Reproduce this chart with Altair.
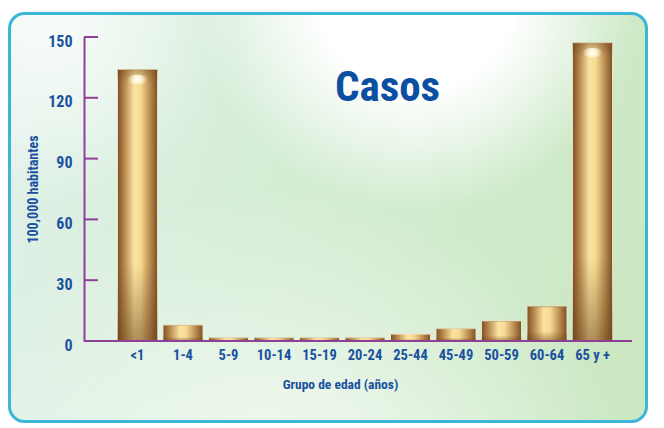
import altair as alt
import pandas as pd

# ---- data ----
grupos = ["<1", "1-4", "5-9", "10-14", "15-19", "20-24", "25-44", "45-49", "50-59", "60-64", "65 y +"]
casos = [134, 7.9, 1.6, 1.6, 1.6, 1.6, 3.4, 6.1, 9.9, 17.2, 147.2]
y_ticks = [0, 30, 60, 90, 120, 150]
titulo = "Casos"
y_titulo = "100,000 habitantes"
x_titulo = "Grupo de edad (años)"

df = pd.DataFrame({"g": grupos, "v": casos})
ticks_df = pd.DataFrame({"v": y_ticks})

FONT = "Roboto Condensed, Roboto, Liberation Sans"
BLUE = "#1a51a0"
PURPLE = "#903f98"
W, H = 548, 304

x_enc = alt.X("g:N", sort=grupos, title=x_titulo,
              scale=alt.Scale(range=[33.5, 528.5], paddingInner=0.121, paddingOuter=0),
              axis=alt.Axis(domain=False, ticks=False, tickSize=0, labelPadding=14,
                            labelBaseline="middle", labelAngle=0, labelFont=FONT,
                            labelFontSize=14.5, labelFontWeight="bold", labelColor=BLUE,
                            titleFont=FONT, titleFontSize=13.5, titleFontWeight="bold",
                            titleColor=BLUE, titleX=256, titleY=43, titleBaseline="middle",
                            titleAlign="center", zindex=1))
y_axis = alt.Axis(values=y_ticks, domain=True, domainColor=PURPLE, domainWidth=2,
                  ticks=False, tickSize=0, grid=False, labelPadding=12, labelOffset=4,
                  labelFont=FONT, labelFontSize=16, labelFontWeight="bold", labelColor=BLUE,
                  titleFont=FONT, titleFontSize=14, titleFontWeight="bold", titleColor=BLUE,
                  titleX=-51, titleY=152, titleAngle=270, titleAlign="center",
                  titleBaseline="middle", zindex=1)
y_scale = alt.Scale(domain=[0, 150], nice=False)
y_enc = alt.Y("v:Q", title=y_titulo, scale=y_scale, axis=y_axis)

one = alt.Data(values=[{"a": 0}])

bg_grad = {"gradient": "linear", "x1": 0, "y1": 0.3, "x2": 1, "y2": 0.5,
           "stops": [{"offset": 0, "color": "#e0f1e8"},
                     {"offset": 0.4, "color": "#d4edd5"},
                     {"offset": 1, "color": "#cbe8c3"}]}
background = alt.Chart(one).mark_rect(
    fill=bg_grad, stroke="#3cb6d8", strokeWidth=3, cornerRadius=15
).encode(x=alt.value(-74.5), x2=alt.value(562.5), y=alt.value(-23.5), y2=alt.value(384.5))

def glow_layer(cx, cy, r, a0, core):
    g = {"gradient": "radial", "x1": cx, "y1": cy, "r1": 0, "x2": cx, "y2": cy, "r2": r,
         "stops": [{"offset": 0, "color": f"rgba(255,255,255,{a0})"},
                   {"offset": core, "color": f"rgba(255,255,255,{a0})"},
                   {"offset": 1, "color": "rgba(255,255,255,0)"}]}
    return alt.Chart(one).mark_rect(fill=g, cornerRadius=15).encode(
        x=alt.value(-73), x2=alt.value(561), y=alt.value(-22), y2=alt.value(383))

glow_low = glow_layer(0.42, 1.05, 0.6, 0.85, 0.1)
glow_left = glow_layer(0.06, 0.18, 0.3, 0.75, 0.1)
glow = glow_layer(0.64, 0.14, 0.35, 1, 0.45)

bar_grad = {"gradient": "linear", "x1": 0, "y1": 0, "x2": 1, "y2": 0,
            "stops": [{"offset": 0, "color": "#7a4f24"},
                      {"offset": 0.16, "color": "#b3834a"},
                      {"offset": 0.42, "color": "#fbe4a2"},
                      {"offset": 0.58, "color": "#f6da92"},
                      {"offset": 0.84, "color": "#b3834a"},
                      {"offset": 1, "color": "#7a4f24"}]}
bars = alt.Chart(df).mark_bar(fill=bar_grad, stroke="#eee2c4", strokeWidth=1).encode(
    x=x_enc, y=y_enc)

shade_grad = {"gradient": "linear", "x1": 0, "y1": 0, "x2": 0, "y2": 1,
              "stops": [{"offset": 0, "color": "rgba(110,70,30,0.45)"},
                        {"offset": 0.05, "color": "rgba(110,70,30,0)"},
                        {"offset": 0.72, "color": "rgba(110,70,30,0)"},
                        {"offset": 1, "color": "rgba(100,60,20,0.5)"}]}
shade = alt.Chart(df).mark_bar(fill=shade_grad).encode(x=x_enc, y=y_enc)

hl = alt.Chart(df).transform_filter(alt.datum.v > 100).mark_point(
    shape="M -1 0 A 1 0.45 0 1 1 1 0 A 1 0.45 0 1 1 -1 0 Z",
    size=420, filled=True, strokeWidth=0, yOffset=10,
    fill={"gradient": "radial", "x1": 0.5, "y1": 0.5, "r1": 0, "x2": 0.5, "y2": 0.5, "r2": 0.5,
          "stops": [{"offset": 0, "color": "rgba(255,255,245,1)"},
                    {"offset": 0.4, "color": "rgba(255,250,225,0.85)"},
                    {"offset": 1, "color": "rgba(255,240,200,0)"}]},
    opacity=1
).encode(x=x_enc, y=y_enc)

tick_rules = alt.Chart(ticks_df).mark_rule(color=PURPLE, strokeWidth=2).encode(
    y=y_enc, x=alt.value(0), x2=alt.value(14))

baseline = alt.Chart(one).mark_rule(color=PURPLE, strokeWidth=2).encode(y=alt.datum(0))

title_txt = alt.Chart(alt.Data(values=[{"t": titulo}])).mark_text(
    font=FONT, fontSize=43, fontWeight="bold", color="#0b4ea2",
    align="center", baseline="alphabetic"
).encode(text="t:N", x=alt.value(303.5), y=alt.value(64))

chart = alt.layer(background, glow_low, glow_left, glow, bars, shade, hl, tick_rules, baseline,
                  title_txt).properties(
    width=W, height=H,
    autosize=alt.AutoSizeParams(type="none"),
    padding={"left": 76, "top": 29, "right": 17, "bottom": 83},
    background="white",
).configure_view(strokeWidth=0)

chart.save("out.html", embed_options={"renderer": "svg", "actions": False})
